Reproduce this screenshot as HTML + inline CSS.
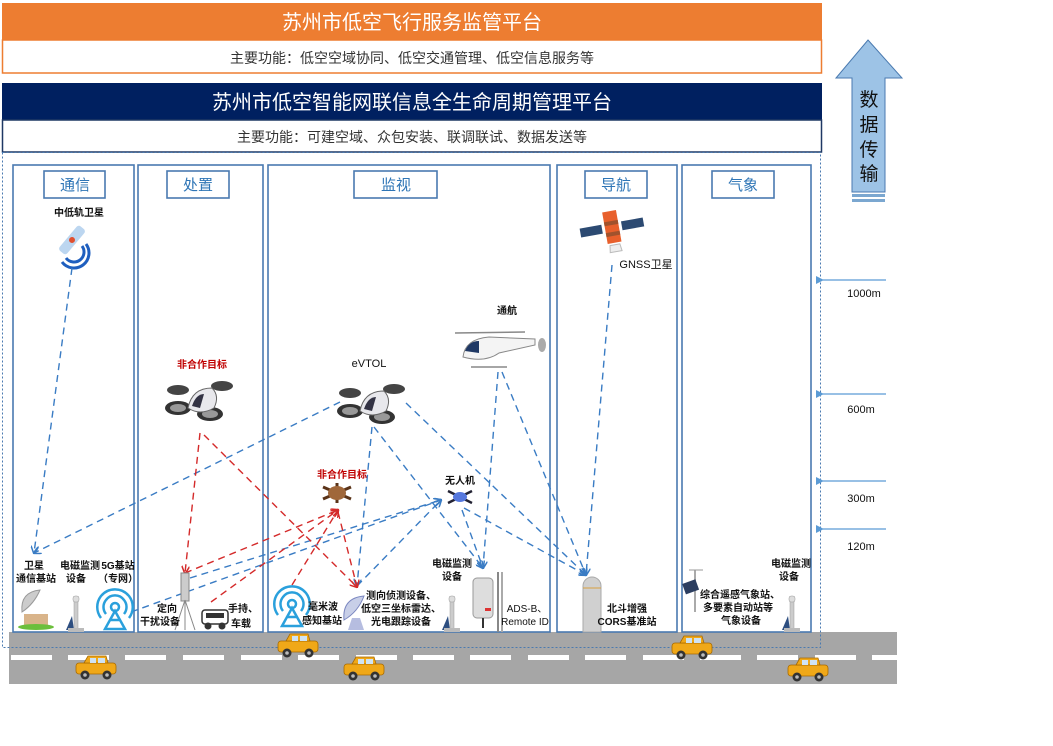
<!DOCTYPE html>
<html><head><meta charset="utf-8"><style>
html,body{margin:0;padding:0;background:#fff;}
body{width:1053px;height:741px;overflow:hidden;position:relative;font-family:"Liberation Sans","Noto Sans CJK SC",sans-serif;}
svg text{font-family:"Liberation Sans","Noto Sans CJK SC",sans-serif;}
</style></head><body>
<svg width="1053" height="741" viewBox="0 0 1053 741" xmlns="http://www.w3.org/2000/svg">
<defs>
<marker id="ab" markerWidth="8" markerHeight="8" refX="7" refY="4" orient="auto" markerUnits="userSpaceOnUse"><path d="M0,0 L8,4 L0,8" fill="none" stroke="#3a7cc4" stroke-width="1.5"/></marker>
<marker id="ar" markerWidth="8" markerHeight="8" refX="7" refY="4" orient="auto" markerUnits="userSpaceOnUse"><path d="M0,0 L8,4 L0,8" fill="none" stroke="#d42a2a" stroke-width="1.5"/></marker>
<marker id="al" markerWidth="8" markerHeight="8" refX="1" refY="4" orient="auto" markerUnits="userSpaceOnUse"><path d="M8,0 L0,4 L8,8 Z" fill="#5b9bd5"/></marker>
<g id="car">
<rect x="0" y="8" width="40" height="11" rx="3" fill="#f0a818" stroke="#a86a00" stroke-width="0.8"/>
<path d="M8,8 L12,1 L30,1 L32,8 Z" fill="#f0a818" stroke="#a86a00" stroke-width="0.8"/>
<rect x="14" y="3" width="6" height="5" fill="#cfe3f3"/><rect x="22" y="3" width="7" height="5" fill="#cfe3f3"/>
<circle cx="9" cy="20" r="4.5" fill="#333"/><circle cx="31" cy="20" r="4.5" fill="#333"/>
<circle cx="9" cy="20" r="1.8" fill="#bbb"/><circle cx="31" cy="20" r="1.8" fill="#bbb"/>
</g>
<g id="drone">
<ellipse cx="-22" cy="-10" rx="11" ry="5" fill="#444"/><ellipse cx="22" cy="-14" rx="11" ry="5" fill="#444"/>
<ellipse cx="-22" cy="8" rx="13" ry="7" fill="#333"/><ellipse cx="10" cy="14" rx="13" ry="7" fill="#333"/>
<ellipse cx="-22" cy="8" rx="8" ry="4" fill="#999"/><ellipse cx="10" cy="14" rx="8" ry="4" fill="#999"/>
<path d="M-12,8 Q-8,-12 12,-12 Q20,-4 14,8 Q0,16 -12,8Z" fill="#e8e8ec" stroke="#666"/>
<path d="M-8,6 Q-4,-6 4,-6 L0,8Z" fill="#334"/>
</g>
<g id="sensor">
<rect x="-2" y="-30" width="4" height="30" fill="#ccc" stroke="#999" stroke-width="0.5"/>
<rect x="-3" y="-34" width="6" height="6" rx="2" fill="#ddd" stroke="#999" stroke-width="0.5"/>
<path d="M-10,0 L-4,-14 L-2,0Z" fill="#2d4e80"/>
<rect x="-8" y="-2" width="16" height="4" fill="#bbb"/>
</g>
<g id="radio">
<circle cx="0" cy="0" r="4" fill="none" stroke="#2aa0dc" stroke-width="2.5"/>
<path d="M-9,-7 A11,11 0 0 1 9,-7 M-9,7 A11,11 0 0 1 -9,-7 M9,-7 A11,11 0 0 1 9,7" fill="none" stroke="#2aa0dc" stroke-width="2.5"/>
<path d="M-14,-11 A18,18 0 0 1 14,-11 M-14,11 A18,18 0 0 1 -14,-11 M14,-11 A18,18 0 0 1 14,11" fill="none" stroke="#2aa0dc" stroke-width="2.5"/>
<path d="M0,4 L-10,22 L10,22 Z M-5,13 L5,13" fill="none" stroke="#2aa0dc" stroke-width="2.5"/>
</g>
</defs>

<!-- top platform -->
<rect x="2" y="3" width="820" height="37" fill="#ed7d31"/>
<rect x="2.5" y="40" width="819" height="33" fill="#fff" stroke="#ed7d31" stroke-width="1.5"/>
<text x="412" y="29" text-anchor="middle" font-size="20" fill="#fff">苏州市低空飞行服务监管平台</text>
<text x="412" y="63" text-anchor="middle" font-size="14" fill="#333" font-family="Liberation Serif,Noto Serif CJK SC,serif">主要功能：低空空域协同、低空交通管理、低空信息服务等</text>

<rect x="2" y="83" width="820" height="37" fill="#002060"/>
<rect x="2.5" y="120" width="819" height="32" fill="#fff" stroke="#1f3864" stroke-width="1.5"/>
<text x="412" y="109" text-anchor="middle" font-size="20" fill="#fff">苏州市低空智能网联信息全生命周期管理平台</text>
<text x="412" y="142" text-anchor="middle" font-size="14" fill="#333" font-family="Liberation Serif,Noto Serif CJK SC,serif">主要功能：可建空域、众包安装、联调联试、数据发送等</text>

<!-- data arrow -->
<path d="M868,40 L902,78 L885,78 L885,192 L852,192 L852,78 L836,78 Z" fill="#9dc3e6" stroke="#4a7ab0" stroke-width="1"/>
<rect x="852" y="194" width="33" height="3" fill="#7ba7d0"/><rect x="852" y="199" width="33" height="3" fill="#7ba7d0"/>
<text font-size="19" fill="#111" text-anchor="middle"><tspan x="869" y="106">数</tspan><tspan x="869" y="131">据</tspan><tspan x="869" y="156">传</tspan><tspan x="869" y="180">输</tspan></text>

<!-- road -->
<rect x="9" y="632" width="888" height="52" fill="#a6a6a6"/>
<g fill="#fff">
<rect x="11" y="655" width="41" height="5"/><rect x="68" y="655" width="41" height="5"/><rect x="125" y="655" width="41" height="5"/><rect x="183" y="655" width="41" height="5"/><rect x="241" y="655" width="41" height="5"/><rect x="298" y="655" width="41" height="5"/><rect x="356" y="655" width="41" height="5"/><rect x="413" y="655" width="41" height="5"/><rect x="470" y="655" width="41" height="5"/><rect x="528" y="655" width="41" height="5"/><rect x="585" y="655" width="41" height="5"/><rect x="643" y="655" width="41" height="5"/><rect x="700" y="655" width="41" height="5"/><rect x="757" y="655" width="41" height="5"/><rect x="815" y="655" width="41" height="5"/><rect x="872" y="655" width="25" height="5"/>
</g>

<!-- dotted outer -->
<rect x="2.5" y="152.5" width="818" height="495" fill="none" stroke="#4a7ab0" stroke-width="1" stroke-dasharray="2,2"/>

<!-- panels -->
<g fill="none" stroke="#4a7ab0" stroke-width="1.6">
<rect x="13" y="165" width="121" height="467"/>
<rect x="138" y="165" width="125" height="467"/>
<rect x="268" y="165" width="282" height="467"/>
<rect x="557" y="165" width="120" height="467"/>
<rect x="682" y="165" width="129" height="467"/>
<rect x="44" y="171" width="61" height="27"/>
<rect x="167" y="171" width="62" height="27"/>
<rect x="354" y="171" width="83" height="27"/>
<rect x="585" y="171" width="62" height="27"/>
<rect x="712" y="171" width="62" height="27"/>
</g>
<g font-size="15" fill="#2e75b6" text-anchor="middle">
<text x="75" y="190">通信</text><text x="198" y="190">处置</text><text x="396" y="190">监视</text><text x="616" y="190">导航</text><text x="743" y="190">气象</text>
</g>

<!-- altitude markers -->
<g stroke="#5b9bd5" stroke-width="1.3">
<line x1="886" y1="280" x2="823" y2="280" marker-end="url(#al)"/>
<line x1="886" y1="394" x2="823" y2="394" marker-end="url(#al)"/>
<line x1="886" y1="481" x2="823" y2="481" marker-end="url(#al)"/>
<line x1="886" y1="529" x2="823" y2="529" marker-end="url(#al)"/>
</g>
<g font-size="11" fill="#111" text-anchor="middle">
<text x="864" y="297">1000m</text><text x="861" y="413">600m</text><text x="861" y="502">300m</text><text x="861" y="550">120m</text>
</g>

<!-- aircraft icons -->
<g transform="translate(72,240) rotate(-50)"><rect x="-16" y="-5" width="32" height="10" rx="3" fill="#bcd6f0"/><circle r="3" fill="#e05030"/></g>
<path d="M66,258 A10,10 0 0 0 82,246 M62,262 A15,15 0 0 0 86,244" fill="none" stroke="#1f5fbf" stroke-width="3"/>
<use href="#drone" transform="translate(200,400)"/>
<use href="#drone" transform="translate(372,403)"/>
<!-- helicopter -->
<g transform="translate(495,345)">
<line x1="-40" y1="-12" x2="30" y2="-13" stroke="#888" stroke-width="1.5"/>
<path d="M-32,12 Q-30,-6 -6,-8 L40,-6 L40,0 L4,8 Q-10,18 -32,12Z" fill="#f4f4f4" stroke="#888"/>
<path d="M-30,6 Q-26,-4 -16,-4 L-16,8Z" fill="#1f3864"/>
<ellipse cx="47" cy="0" rx="4" ry="7" fill="#aaa"/>
<line x1="-24" y1="22" x2="12" y2="22" stroke="#888" stroke-width="1.5"/>
</g>
<!-- noncoop small drone -->
<g transform="translate(337,493)"><path d="M-14,-6 L14,6 M-14,6 L14,-6 M0,-10 L0,10" stroke="#5a3318" stroke-width="3"/><ellipse rx="9" ry="7" fill="#a0673a"/></g>
<!-- wurenji -->
<g transform="translate(460,497)"><path d="M-12,-6 L12,6 M-12,6 L12,-6" stroke="#223" stroke-width="2.5"/><ellipse rx="7" ry="5" fill="#5577dd"/></g>
<!-- GNSS sat -->
<g transform="translate(612,228) rotate(-10)">
<rect x="-32" y="-5" width="22" height="9" fill="#2c4a72"/><rect x="10" y="-5" width="22" height="9" fill="#2c4a72"/>
<rect x="-7" y="-17" width="14" height="32" fill="#e8602c"/><rect x="-7" y="-7" width="14" height="4" fill="#a0522d"/><rect x="-7" y="4" width="14" height="4" fill="#a0522d"/>
<path d="M-5,17 L5,17 L6,24 L-6,24Z" fill="#eee" stroke="#bbb"/>
</g>

<!-- connectors blue -->
<g fill="none" stroke="#3a7cc4" stroke-width="1.4" stroke-dasharray="7,5" marker-end="url(#ab)">
<line x1="72" y1="268" x2="34" y2="553"/>
<line x1="340" y1="402" x2="34" y2="553"/>
<line x1="372" y1="427" x2="357" y2="586"/>
<line x1="374" y1="427" x2="483" y2="568"/>
<line x1="406" y1="403" x2="586" y2="575"/>
<line x1="498" y1="372" x2="483" y2="568"/>
<line x1="502" y1="372" x2="586" y2="575"/>
<line x1="612" y1="265" x2="586" y2="575"/>
<line x1="131" y1="612" x2="441" y2="500"/>
<line x1="190" y1="578" x2="441" y2="500"/>
<line x1="357" y1="586" x2="441" y2="500"/>
<line x1="462" y1="510" x2="483" y2="568"/>
<line x1="464" y1="508" x2="586" y2="575"/>
</g>
<!-- connectors red -->
<g fill="none" stroke="#d42a2a" stroke-width="1.4" stroke-dasharray="7,5" marker-end="url(#ar)">
<line x1="200" y1="433" x2="185" y2="573"/>
<line x1="204" y1="435" x2="357" y2="587"/>
<line x1="185" y1="573" x2="338" y2="510"/>
<line x1="211" y1="602" x2="338" y2="510"/>
<line x1="292" y1="585" x2="338" y2="510"/>
<line x1="338" y1="512" x2="357" y2="587"/>
</g>

<!-- ground equipment -->
<!-- dish -->
<g transform="translate(36,612)"><rect x="-12" y="2" width="24" height="12" fill="#d9b48a"/><ellipse cx="0" cy="15" rx="18" ry="3" fill="#6cbf3c"/><path d="M-14,0 Q-16,-20 4,-22 Q-2,-8 -14,0Z" fill="#ccc" stroke="#999"/></g>
<use href="#sensor" transform="translate(76,630)"/>
<use href="#radio" transform="translate(115,607)"/>
<!-- tripod jammer -->
<g transform="translate(185,600)" stroke="#888" fill="none"><rect x="-4" y="-27" width="8" height="28" fill="#ccc"/><path d="M0,0 L-10,30 M0,0 L10,30 M0,0 L0,30"/></g>
<!-- vehicle -->
<g transform="translate(215,620)"><rect x="-13" y="-10" width="26" height="14" rx="3" fill="#fff" stroke="#333" stroke-width="1.5"/><circle cx="-7" cy="6" r="3.5" fill="#333"/><circle cx="7" cy="6" r="3.5" fill="#333"/><rect x="-9" y="-7" width="18" height="5" fill="#333"/></g>
<use href="#radio" transform="translate(292,604)"/>
<!-- radar -->
<g transform="translate(356,610)"><path d="M-12,10 Q-14,-12 8,-14 Q2,2 -12,10Z" fill="#c8cfe8" stroke="#7a86c0"/><path d="M-8,20 L8,20 L4,8 L-4,8Z" fill="#b6bde0"/></g>
<use href="#sensor" transform="translate(452,630)"/>
<g transform="translate(483,600)"><rect x="-10" y="-22" width="20" height="40" rx="4" fill="#ddd" stroke="#999"/><rect x="2" y="8" width="6" height="3" fill="#d33"/><rect x="-1" y="18" width="2" height="10" fill="#333"/></g>
<rect x="497" y="572" width="2" height="60" fill="#888"/><rect x="501" y="572" width="2" height="60" fill="#aaa"/>
<!-- CORS -->
<g transform="translate(592,600)"><path d="M-9,-14 A9,9 0 0 1 9,-14 L9,32 L-9,32Z" fill="#d0d0d0" stroke="#aaa"/><line x1="-9" y1="-12" x2="9" y2="-12" stroke="#d9a040"/></g>
<!-- weather -->
<g transform="translate(695,590)"><rect x="-1" y="-20" width="2" height="42" fill="#aaa"/><rect x="-10" y="-10" width="14" height="11" fill="#2c3e60" transform="rotate(-20)"/><line x1="-6" y1="-20" x2="8" y2="-20" stroke="#999"/></g>
<use href="#sensor" transform="translate(792,630)"/>

<!-- cars -->
<use href="#car" transform="translate(278,633)"/>
<use href="#car" transform="translate(76,655)"/>
<use href="#car" transform="translate(344,656)"/>
<use href="#car" transform="translate(672,635)"/>
<use href="#car" transform="translate(788,657)"/>

<!-- labels -->
<g font-size="10" fill="#111" text-anchor="middle" font-weight="bold">
<text x="79" y="216">中低轨卫星</text>
<text x="369" y="367" font-weight="normal" font-size="11">eVTOL</text>
<text x="507" y="314">通航</text>
<text x="460" y="484">无人机</text>
<text x="646" y="268" font-weight="normal" font-size="11">GNSS卫星</text>
<text x="34" y="569">卫星</text><text x="36" y="582">通信基站</text>
<text x="80" y="569">电磁监测</text><text x="76" y="582">设备</text>
<text x="118" y="569">5G基站</text><text x="118" y="582">（专网）</text>
<text x="167" y="612">定向</text><text x="160" y="625">干扰设备</text>
<text x="243" y="612">手持、</text><text x="241" y="627">车载</text>
<text x="323" y="610">毫米波</text><text x="322" y="624">感知基站</text>
<text x="401" y="599">测向侦测设备、</text><text x="401" y="612">低空三坐标雷达、</text><text x="401" y="625">光电跟踪设备</text>
<text x="452" y="567">电磁监测</text><text x="452" y="580">设备</text>
<text x="527" y="612" font-weight="normal">ADS-B、</text><text x="525" y="625" font-weight="normal">Remote ID</text>
<text x="627" y="612">北斗增强</text><text x="627" y="625">CORS基准站</text>
<text x="740" y="598">综合遥感气象站、</text><text x="738" y="611">多要素自动站等</text><text x="741" y="624">气象设备</text>
<text x="791" y="567">电磁监测</text><text x="789" y="580">设备</text>
</g>
<g font-size="10" fill="#c00000" text-anchor="middle" font-weight="bold">
<text x="202" y="368">非合作目标</text>
<text x="342" y="478">非合作目标</text>
</g>
</svg>
</body></html>
